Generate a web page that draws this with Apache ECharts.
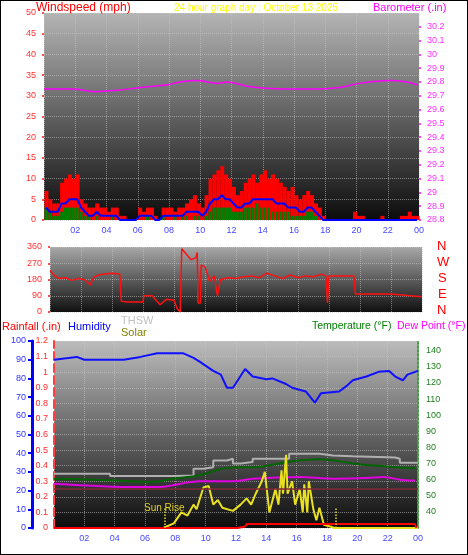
<!DOCTYPE html>
<html><head><meta charset="utf-8">
<script src="https://cdn.jsdelivr.net/npm/echarts@6/dist/echarts.min.js"></script>
<style>html,body{margin:0;padding:0;background:#fff}#c{width:468px;height:555px;box-sizing:border-box;border:1px solid #000}</style>
</head><body><div id="c"></div>
<script>
// wind, 15 minute steps from 00:00
const windGust = [7,5,4,4, 9,10,11,10, 11,5,4,3, 3,4,3,3, 2,3,3,1, 1,0,0,0, 3,2,3,3, 1,0,3,3, 3,2,3,3, 4,5,6,4,
  3,6,10,11, 12,13,11,10, 8,6,7,9, 10,11,9,11, 12,10,11,10, 9,8,7,8, 6,5,6,7, 6,4,3,1,
  0,0,0,0, 0,0,0,2, 1,1,0,0, 0,0,1,0, 0,0,0,1, 1,2,1,1];
const windAvg = [3,2,2,2, 4,4,5,5, 5,3,2,1, 1,2,1,1, 1,1,1,0, 0,0,0,0, 1,1,1,1, 0,0,1,1, 1,1,1,1,
  2,2,2,2, 1,2,4,5, 5,6,5,5, 4,3,3,4, 4,5,5,5, 5,5,5,4, 4,4,3,3, 3,2,2,3, 3,2,1,0,
  0,0,0,0, 0,0,0,0, 0,0,0,0, 0,0,0,0, 0,0,0,0, 0,0,0,0];
const windSpeed = [3,2,1,1, 2,3,3,3, 3,2,1,1, 0,1,0,0, 0,1,0,0, 0,0,0,0, 0,0,1,0, 0,0,1,0, 0,1,0,1,
  1,0,1,1, 0,1,2,3, 3,3,3,3, 2,2,2,3, 3,3,4,3, 3,3,2,2, 2,2,2,1, 1,1,1,2, 2,1,0,0,
  0,0,0,0, 0,0,0,0, 0,0,0,0, 0,0,0,0, 0,0,0,0, 0,0,0,0];

const baroT = [0,1.9,3.2,4.7,6.2,7.9,8.7,9.8,11.1,11.7,13,14.2,15.9,17.6,18.9,20.2,22.1,23.2,23.9];
const baroV = [29.75,29.75,29.73,29.74,29.76,29.78,29.80,29.81,29.79,29.80,29.77,29.755,29.75,29.75,29.76,29.79,29.81,29.80,29.78];

const dirT = [0,0.3,0.6,1,1.4,1.8,2.2,2.6,2.8,3.1,3.5,4,4.5,4.6,5,6,6.05,6.6,6.9,7.1,7.5,8,8.2,8.4,8.5,8.8,9.1,9.4,9.5,9.55,9.7,9.75,10,10.3,10.6,10.8,11,11.5,12,12.5,13,13.5,14,14.5,15,15.5,16,16.5,17,17.5,17.8,17.9,18,19.6,19.7,22,22.1,24];
const dirV = [230,200,185,190,175,185,180,150,190,205,210,215,210,60,55,55,90,90,60,40,70,65,20,0,350,320,290,300,330,50,50,260,250,170,200,90,180,190,185,195,200,190,215,200,185,205,190,200,195,210,200,50,200,200,100,100,90,85];

const humT = [0,1.5,2,4.6,5.7,6.8,8.5,9.2,9.6,10.5,11,11.4,11.8,12.6,13.1,14,14.4,15.3,15.7,16.6,17.2,17.6,18.8,19.3,19.7,20.6,21.4,22.1,22.5,23,23.3,24];
const humV = [90,91.5,90,90,91.5,93.5,93.5,91,89,84,82,75,75,85,81,79.5,80,77,75,73,67,72,73,76,79,81,83.5,84,81,79,82,84];

const rainT = [0,12.1,12.2,12.6,12.7,23.8,23.9];
const rainV = [0,0,0.01,0.01,0.025,0.025,0];

const solarT = [0,7.2,7.9,8.4,8.8,9.2,9.4,9.85,10.2,10.5,10.8,11.1,11.8,12.3,12.7,13,13.3,13.7,13.9,14.2,14.6,14.8,15,15.1,15.3,15.4,15.7,15.9,16.2,16.4,16.5,16.7,16.8,17.1,17.3,17.5,17.8,18.2,18.5,24];
const solarV = [0,0,30,100,80,150,120,260,270,150,180,130,110,150,190,150,220,300,360,100,250,150,370,220,470,220,300,150,250,100,280,100,300,120,50,130,20,10,0,0];

const thswT = [0,2.2,3.7,7.7,7.9,9.2,9.85,10.5,11.4,11.8,12.3,13.1,15.1,15.5,17.5,18.4,19.7,22.5,22.8,24];
const thswV = [63.7,63.7,62.3,62.3,62.5,66.8,67.7,71.9,73,70,71,73,73,76,75,74.5,73.7,73,70.5,70.5];
const tempT = [0,3.7,6.4,7.9,9.6,11.4,13.6,15.8,17.5,18.4,20.1,23.8];
const tempV = [60.6,59.6,58.5,60.5,62.7,67.3,68,71.5,72.7,72,69.6,67];
const dewT = [0,5.3,6.8,9.6,11.8,13.1,16.2,18.4,20.6,21.7,22.8,23.8];
const dewV = [57.5,55.4,55.4,59,59,60.6,61.7,60.6,61,61.7,60,59.5];

const hourTicks = ['02','04','06','08','10','12','14','16','18','20','22','00'];

const pairs = (t, v) => t.map((x, i) => [x, v[i]]);
const q = v => v.map((y, i) => [i * 0.25 + 0.125, y]);
const F = 'Liberation Sans';
const bg = (a, b) => new echarts.graphic.LinearGradient(0, 0, 0, 1, [{offset: 0, color: a}, {offset: 1, color: b}]);
const dotted = {show: true, lineStyle: {color: 'rgba(200,200,200,0.55)', type: 'dotted'}};

const xAx = (i, showLabel) => ({
  type: 'value', gridIndex: i, min: 0, max: 24, interval: 2,
  axisLine: {show: false}, axisTick: {show: false}, splitLine: dotted,
  axisLabel: {show: showLabel, color: '#4848ff', fontSize: 9, fontFamily: F, margin: 6,
    formatter: v => v === 0 ? '' : hourTicks[v / 2 - 1]}
});
const yTick = c => ({show: true, length: 3, lineStyle: {color: c, type: 'dotted', width: 2}});
const txt = (pos, text, fill, size) => Object.assign({type: 'text', style: {text, fill, font: (size || 11) + 'px ' + F}}, pos);

const chart = echarts.init(document.getElementById('c'));
chart.setOption({
  animation: false,
  textStyle: {fontFamily: F},
  grid: [
    {left: 43, right: 48, top: 12, height: 207, show: true, borderWidth: 0, backgroundColor: bg('#b4b4b4', '#0c0c0c')},
    {left: 49, right: 45, top: 246, height: 65, show: true, borderWidth: 0, backgroundColor: bg('#a8a8a8', '#101010')},
    {left: 53, right: 49, top: 340, height: 187, show: true, borderWidth: 0, backgroundColor: bg('#bcbcbc', '#0c0c0c')}
  ],
  xAxis: [xAx(0, true), xAx(1, false), xAx(2, true)],
  yAxis: [
    {type: 'value', gridIndex: 0, min: 0, max: 50, interval: 5, splitLine: dotted,
      axisLine: {show: false}, axisTick: yTick('#ff5050'),
      axisLabel: {color: '#ff3030', fontSize: 9, margin: 8}},
    {type: 'value', gridIndex: 0, position: 'right', min: 28.8, max: 30.3, interval: 0.1, splitLine: {show: false},
      axisLine: {show: false}, axisTick: yTick('#ff40ff'),
      axisLabel: {color: '#ff30ff', fontSize: 9, margin: 8, showMaxLabel: false, formatter: v => String(+v.toFixed(1))}},
    {type: 'value', gridIndex: 1, min: 0, max: 360, interval: 90, splitLine: dotted,
      axisLine: {show: false}, axisTick: yTick('#ff5050'),
      axisLabel: {color: '#ff3030', fontSize: 9, margin: 8}},
    {type: 'value', gridIndex: 2, position: 'left', min: 0, max: 1.2, interval: 0.1, splitLine: dotted,
      axisLine: {show: true, lineStyle: {color: '#ff4040', type: 'dashed', width: 2}}, axisTick: {show: false},
      axisLabel: {color: '#ff3030', fontSize: 9, margin: 6, formatter: v => String(+v.toFixed(1))}},
    {type: 'value', gridIndex: 2, position: 'left', min: 0, max: 100, interval: 10, offset: 22, splitLine: {show: false},
      axisLine: {show: true, lineStyle: {color: '#0000ff', width: 3}}, axisTick: {show: true, length: 4, lineStyle: {color: '#0000ff', width: 2}},
      axisLabel: {color: '#3030ff', fontSize: 9, margin: 6}},
    {type: 'value', gridIndex: 2, position: 'right', min: 30, max: 146, interval: 10, splitLine: {show: false},
      axisLine: {show: true, lineStyle: {color: '#40a040', type: 'dotted', width: 2}}, axisTick: {show: false},
      axisLabel: {color: '#208020', fontSize: 9, margin: 8, showMinLabel: false, showMaxLabel: false}},
    {type: 'value', gridIndex: 2, position: 'right', min: 0, max: 1200, show: false}
  ],
  series: [
    {type: 'bar', xAxisIndex: 0, yAxisIndex: 0, data: q(windGust), barWidth: 4, barGap: '-100%', itemStyle: {color: '#ff0000'}},
    {type: 'bar', xAxisIndex: 0, yAxisIndex: 0, data: q(windSpeed), barWidth: 3, itemStyle: {color: '#008000'}},
    {type: 'line', xAxisIndex: 0, yAxisIndex: 0, data: q(windAvg), symbol: 'none', lineStyle: {color: '#0000ff', width: 2}},
    {type: 'line', xAxisIndex: 0, yAxisIndex: 1, data: pairs(baroT, baroV), symbol: 'none', smooth: 0.3, lineStyle: {color: '#ff00ff', width: 1.5}},
    {type: 'line', xAxisIndex: 1, yAxisIndex: 2, data: pairs(dirT, dirV), symbol: 'none', lineStyle: {color: '#ff1010', width: 1.5}},
    {type: 'line', xAxisIndex: 2, yAxisIndex: 4, data: pairs(humT, humV), symbol: 'none', lineStyle: {color: '#1010ff', width: 2}},
    {type: 'line', xAxisIndex: 2, yAxisIndex: 5, data: pairs(thswT, thswV), symbol: 'none', step: 'end', lineStyle: {color: '#b0b0b0', width: 2}},
    {type: 'line', xAxisIndex: 2, yAxisIndex: 5, data: pairs(tempT, tempV), symbol: 'none', smooth: 0.3, lineStyle: {color: '#006400', width: 2}},
    {type: 'line', xAxisIndex: 2, yAxisIndex: 5, data: pairs(dewT, dewV), symbol: 'none', smooth: 0.3, lineStyle: {color: '#e000e0', width: 2}},
    {type: 'line', xAxisIndex: 2, yAxisIndex: 6, data: pairs(solarT, solarV), symbol: 'none', lineStyle: {color: '#e8e020', width: 2},
      markLine: {silent: true, symbol: 'none', label: {show: false}, lineStyle: {color: '#e8e020', type: 'dotted', width: 1.5},
        data: [[{coord: [7.3, 0]}, {coord: [7.3, 130]}], [{coord: [18.6, 0]}, {coord: [18.6, 130]}]]}},
    {type: 'line', xAxisIndex: 2, yAxisIndex: 3, data: pairs(rainT, rainV), symbol: 'none', lineStyle: {color: '#ff0000', width: 2},
      markLine: {silent: true, symbol: 'none', label: {show: false}, lineStyle: {color: '#802838', type: 'solid', width: 1.5}, data: [{yAxis: 0.25}]}}
  ],
  graphic: [
    txt({left: 35, top: 1}, 'Windspeed (mph)', '#ff0000', 12),
    txt({left: 173, top: 2}, '24 hour graph day : October 13 2025', '#ffff00', 10),
    txt({left: 372, top: 1}, 'Barometer (.in)', '#ff00ff', 11),
    txt({left: 436, top: 239}, 'N', '#ff0000', 13),
    txt({left: 436, top: 255}, 'W', '#ff0000', 13),
    txt({left: 437, top: 271}, 'S', '#ff0000', 13),
    txt({left: 437, top: 287}, 'E', '#ff0000', 13),
    txt({left: 436, top: 303}, 'N', '#ff0000', 13),
    txt({left: 1, top: 320}, 'Rainfall (.in)', '#ff0000'),
    txt({left: 67, top: 320}, 'Humidity', '#0000ff'),
    txt({left: 120, top: 314}, 'THSW', '#c0c0c0'),
    txt({left: 120, top: 326}, 'Solar', '#808000'),
    txt({left: 311, top: 320}, 'Temperature (°F)', '#008000', 10.5),
    txt({left: 396, top: 320}, 'Dew Point (°F)', '#ff00ff', 10.5),
    txt({left: 143, top: 502}, 'Sun Rise', '#e0d030', 10)
  ]
});
</script></body></html>
